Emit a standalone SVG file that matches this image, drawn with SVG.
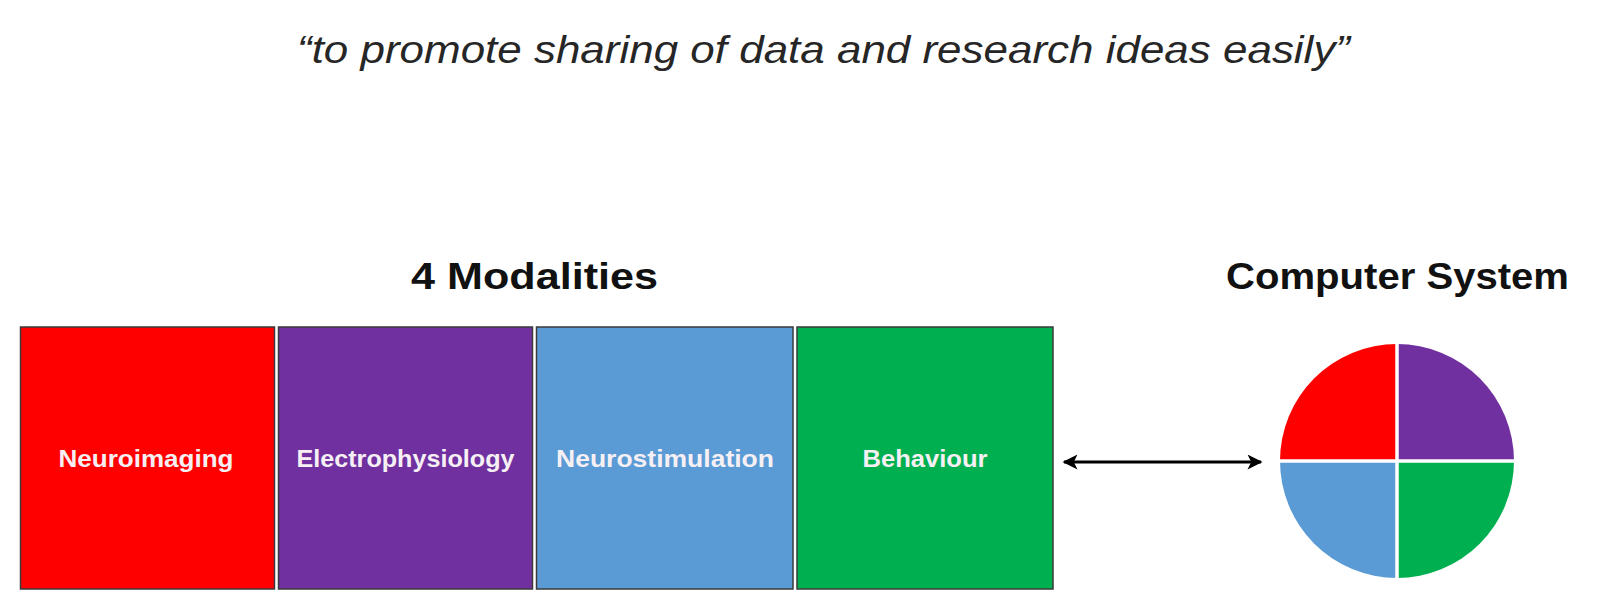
<svg xmlns="http://www.w3.org/2000/svg" width="1600" height="600" viewBox="0 0 1600 600">
<style>
.title{font-family:"Liberation Sans",Arial,sans-serif;font-style:italic;font-size:38px;fill:#262626}
.head{font-family:"Liberation Sans",Arial,sans-serif;font-weight:bold;font-size:36px;fill:#111}
.box{stroke:#3a3a3a;stroke-width:1.5}
.lbl{font-family:"Liberation Sans",Arial,sans-serif;font-weight:bold;font-size:24px;fill:#f6f0f4;text-anchor:middle}
.sep{stroke:#fff;stroke-width:3.5}
</style>
<defs>
<marker id="ah" viewBox="0 0 10 10" refX="9" refY="5" markerWidth="6" markerHeight="5" orient="auto-start-reverse" markerUnits="strokeWidth">
<path d="M0,0 L10,5 L0,10 L2.5,5 Z" fill="#000"/>
</marker>
</defs>
<rect width="1600" height="600" fill="#fff"/>
<text class="title" x="297" y="63" textLength="1053" lengthAdjust="spacingAndGlyphs">“to promote sharing of data and research ideas easily”</text>
<text class="head" x="411" y="289" textLength="247" lengthAdjust="spacingAndGlyphs">4 Modalities</text>
<text class="head" x="1226" y="289" textLength="343" lengthAdjust="spacingAndGlyphs">Computer System</text>
<g id="neuroimaging">
<rect class="box" x="20.5" y="327" width="254" height="262" fill="#FF0000"/>
<text class="lbl" x="146" y="467" textLength="175" lengthAdjust="spacingAndGlyphs">Neuroimaging</text>
</g>
<g id="electrophysiology">
<rect class="box" x="278.5" y="327" width="254" height="262" fill="#7030A0"/>
<text class="lbl" x="405.5" y="467" textLength="218" lengthAdjust="spacingAndGlyphs">Electrophysiology</text>
</g>
<g id="neurostimulation">
<rect class="box" x="536.5" y="327" width="256.5" height="262" fill="#5B9BD5"/>
<text class="lbl" x="665" y="467" textLength="218" lengthAdjust="spacingAndGlyphs">Neurostimulation</text>
</g>
<g id="behaviour">
<rect class="box" x="797" y="327" width="256" height="262" fill="#00B050"/>
<text class="lbl" x="925" y="467" textLength="125" lengthAdjust="spacingAndGlyphs">Behaviour</text>
</g>
<g id="connectors">
<line x1="1064" y1="462" x2="1261" y2="462" stroke="#000" stroke-width="3" marker-start="url(#ah)" marker-end="url(#ah)"/>
</g>
<g id="computer-system">
<path d="M1397,461 L1280,461 A117,117 0 0 1 1397,344 Z" fill="#FF0000"/>
<path d="M1397,461 L1397,344 A117,117 0 0 1 1514,461 Z" fill="#7030A0"/>
<path d="M1397,461 L1514,461 A117,117 0 0 1 1397,578 Z" fill="#00B050"/>
<path d="M1397,461 L1397,578 A117,117 0 0 1 1280,461 Z" fill="#5B9BD5"/>
<line class="sep" x1="1397" y1="343" x2="1397" y2="579"/>
<line class="sep" x1="1279" y1="461" x2="1515" y2="461"/>
</g>
</svg>
